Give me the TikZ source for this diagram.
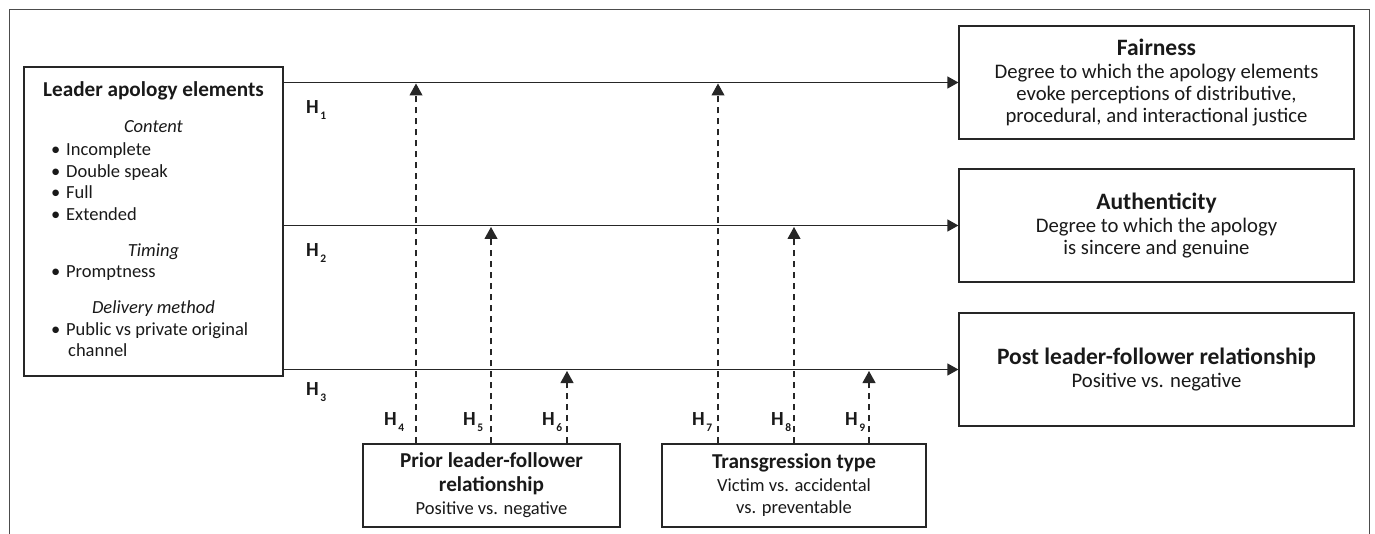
\documentclass[tikz,border=0pt]{standalone}
\usepackage{fontspec}
\setmainfont{Carlito}
\usetikzlibrary{arrows.meta}
\newcommand\bodyfont{\fontsize{18.5}{22}\selectfont}
\newcommand\ttlfont{\fontsize{21.2}{24}\selectfont\bfseries}
\newcommand\bigbody{\fontsize{20.7}{22.3}\selectfont}
\newcommand\bigttl{\fontsize{23.5}{25}\selectfont\bfseries}
\newcommand\hyp[1]{\textbf{H}\hspace{1.5pt}\raisebox{-6pt}{\fontsize{11.5}{11.5}\selectfont\bfseries #1}}
\tikzset{
  box/.style={draw=black!85, line width=1.2pt, rectangle, inner sep=0pt, align=center, font=\bodyfont, text=black!90},
  bigbox/.style={box, font=\bigbody},
  txt/.style={inner sep=0pt, font=\bodyfont, text=black!90},
  hlab/.style={inner sep=0pt, font=\fontsize{20}{22}\selectfont, text=black!90},
  solidarrow/.style={draw=black!85, line width=1.2pt, -{Triangle[length=11pt,width=12pt]}},
  dasharrow/.style={draw=black!85, line width=1.1pt, dash pattern=on 6pt off 5pt, -{Triangle[length=12pt,width=13pt]}},
  frame/.style={draw=black!70, line width=1pt}
}
\begin{document}
\begin{tikzpicture}[x=1pt,y=-1pt]
\useasboundingbox (0,0) rectangle (1375,534);
\draw[frame] (9,534) -- (9,10) -- (1369,10) -- (1369,534);

% left box
\node[box, minimum width=259pt, minimum height=309pt] (lae) at (153.5,221.5) {};
\node[txt, anchor=base] (laet) at (153.5,97) {\ttlfont Leader apology elements};
\node[txt, anchor=base] (hc) at (153.5,133) {\itshape Content};
\node[txt, anchor=base west] (b1) at (51,156) {\makebox[15pt][l]{•}Incomplete};
\node[txt, anchor=base west] (b2) at (51,177.5) {\makebox[15pt][l]{•}Double speak};
\node[txt, anchor=base west] (b3) at (51,199) {\makebox[15pt][l]{•}Full};
\node[txt, anchor=base west] (b4) at (51,221) {\makebox[15pt][l]{•}Extended};
\node[txt, anchor=base] (ht) at (153.5,257) {\itshape Timing};
\node[txt, anchor=base west] (b5) at (51,278) {\makebox[15pt][l]{•}Promptness};
\node[txt, anchor=base] (hd) at (153.5,313) {\itshape Delivery method};
\node[txt, anchor=base west] (b6) at (51,335) {\makebox[15pt][l]{•}Public vs private original};
\node[txt, anchor=base west] (b6b) at (68,356.5) {channel};

% right boxes
\node[bigbox, minimum width=395pt, minimum height=113pt] (fair) at (1156.5,82.5)
  {{\bigttl Fairness}\\[1pt]Degree to which the apology elements\\evoke perceptions of distributive,\\procedural, and interactional justice};
\node[bigbox, minimum width=395pt, minimum height=113pt] (auth) at (1156.5,225.5)
  {{\bigttl Authenticity}\\[1pt]Degree to which the apology\\is sincere and genuine};
\node[bigbox, minimum width=395pt, minimum height=113pt] (post) at (1156.5,369.5)
  {{\bigttl Post leader-follower relationship}\\[1pt]Positive vs. negative};

% bottom boxes
\node[box, minimum width=257pt, minimum height=83pt] (prior) at (491.5,485.5)
  {{\ttlfont Prior leader-follower}\\[2pt]{\ttlfont relationship}\\[1pt]Positive vs. negative};
\node[box, minimum width=264pt, minimum height=83pt] (trans) at (794,485.5)
  {{\ttlfont Transgression type}\\[1pt]Victim vs. accidental\\vs. preventable};

% main arrows
\draw[solidarrow] (lae.east |- fair.west) -- (fair.west);
\draw[solidarrow] (lae.east |- auth.west) -- (auth.west);
\draw[solidarrow] (lae.east |- post.west) -- (post.west);

% moderator tips
\coordinate (t4) at (416,83.5);
\coordinate (t5) at (491,227);
\coordinate (t6) at (567,371);
\coordinate (t7) at (718,83.5);
\coordinate (t8) at (794,227);
\coordinate (t9) at (869,371);
\draw[dasharrow] (prior.north -| t4) -- (t4);
\draw[dasharrow] (prior.north -| t5) -- (t5);
\draw[dasharrow] (prior.north -| t6) -- (t6);
\draw[dasharrow] (trans.north -| t7) -- (t7);
\draw[dasharrow] (trans.north -| t8) -- (t8);
\draw[dasharrow] (trans.north -| t9) -- (t9);

% hypothesis labels
\node[hlab, anchor=base west] (h1) at (306,114) {\hyp{1}};
\node[hlab, anchor=base west] (h2) at (306,257) {\hyp{2}};
\node[hlab, anchor=base west] (h3) at (306,395) {\hyp{3}};
\node[hlab, anchor=base west] (h4) at (384,425) {\hyp{4}};
\node[hlab, anchor=base west] (h5) at (463,425) {\hyp{5}};
\node[hlab, anchor=base west] (h6) at (542,425) {\hyp{6}};
\node[hlab, anchor=base west] (h7) at (692,425) {\hyp{7}};
\node[hlab, anchor=base west] (h8) at (771,425) {\hyp{8}};
\node[hlab, anchor=base west] (h9) at (845,425) {\hyp{9}};
\end{tikzpicture}
\end{document}
